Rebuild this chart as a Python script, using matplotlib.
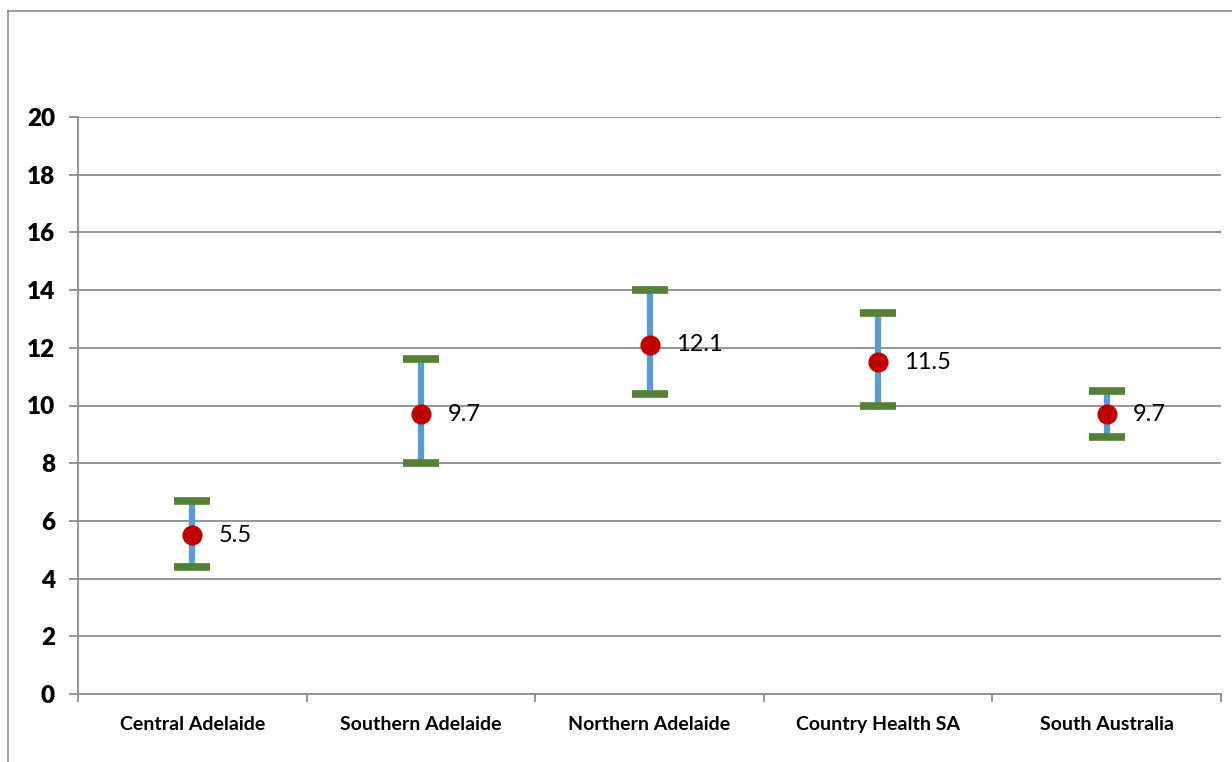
import numpy as np
import matplotlib
matplotlib.use('Agg')
import matplotlib.pyplot as plt
from matplotlib.ticker import FixedLocator

# Data
regions = ['Central Adelaide', 'Southern Adelaide', 'Northern Adelaide',
           'Country Health SA', 'South Australia']
rate = [5.5, 9.7, 12.1, 11.5, 9.7]
lower = [4.4, 8.0, 10.4, 10.0, 8.9]
upper = [6.7, 11.6, 14.0, 13.2, 10.5]

x = np.arange(len(regions))
rate = np.array(rate)
err = [rate - np.array(lower), np.array(upper) - rate]

plt.rcParams['font.family'] = ['Lato', 'DejaVu Sans']

fig = plt.figure(figsize=(12.32, 7.62), dpi=100)
ax = fig.add_axes([78/1232, 68/762, 1143/1232, 577/762])

# grid
ax.set_ylim(0, 20)
ax.set_xlim(-0.5, len(regions) - 0.5)
ax.set_yticks(np.arange(0, 21, 2))
ax.yaxis.grid(True, color='#8c8c8c', lw=1.3)
ax.set_axisbelow(True)

# confidence interval lines
ax.errorbar(x, rate, yerr=err, fmt='none', ecolor='#5B9BD5', elinewidth=4.5,
            capsize=0, zorder=3)
# caps
ax.plot(x, lower, ls='none', marker='_', ms=26, mew=5.5, color='#548235', zorder=4)
ax.plot(x, upper, ls='none', marker='_', ms=26, mew=5.5, color='#548235', zorder=4)
# point estimate
ax.plot(x, rate, ls='none', marker='o', ms=13.5, color='#C00000', zorder=5)

for xi, v in zip(x, rate):
    ax.annotate('{:.1f}'.format(v), (xi, v), xytext=(19, 0), textcoords='offset points',
                va='center', ha='left', fontsize=17, color='black')

# axes styling
for s in ['top', 'right']:
    ax.spines[s].set_visible(False)
ax.spines['left'].set_color('#8c8c8c')
ax.spines['bottom'].set_color('#8c8c8c')
ax.spines['left'].set_linewidth(1.3)
ax.spines['bottom'].set_linewidth(1.3)

ax.set_xticks(x)
ax.set_xticklabels(regions, fontsize=14, fontweight='bold')
ax.xaxis.set_minor_locator(FixedLocator(np.arange(-0.5, len(regions), 1.0)))
ax.tick_params(axis='x', which='major', length=0, pad=16)
ax.tick_params(axis='x', which='minor', length=6, color='#8c8c8c', width=1.3)
ax.tick_params(axis='y', length=6.5, color='#8c8c8c', width=1.3, pad=10,
               labelsize=17.5)
for lbl in ax.get_yticklabels():
    lbl.set_fontweight('heavy')

# outer chart border (left and top visible)
fig.add_artist(plt.Line2D([8/1232, 8/1232], [0, 1 - 11/762], color='#8c8c8c', lw=1.2))
fig.add_artist(plt.Line2D([8/1232, 1], [1 - 11/762, 1 - 11/762], color='#8c8c8c', lw=1.2))

fig.savefig('out.png', dpi=100)
